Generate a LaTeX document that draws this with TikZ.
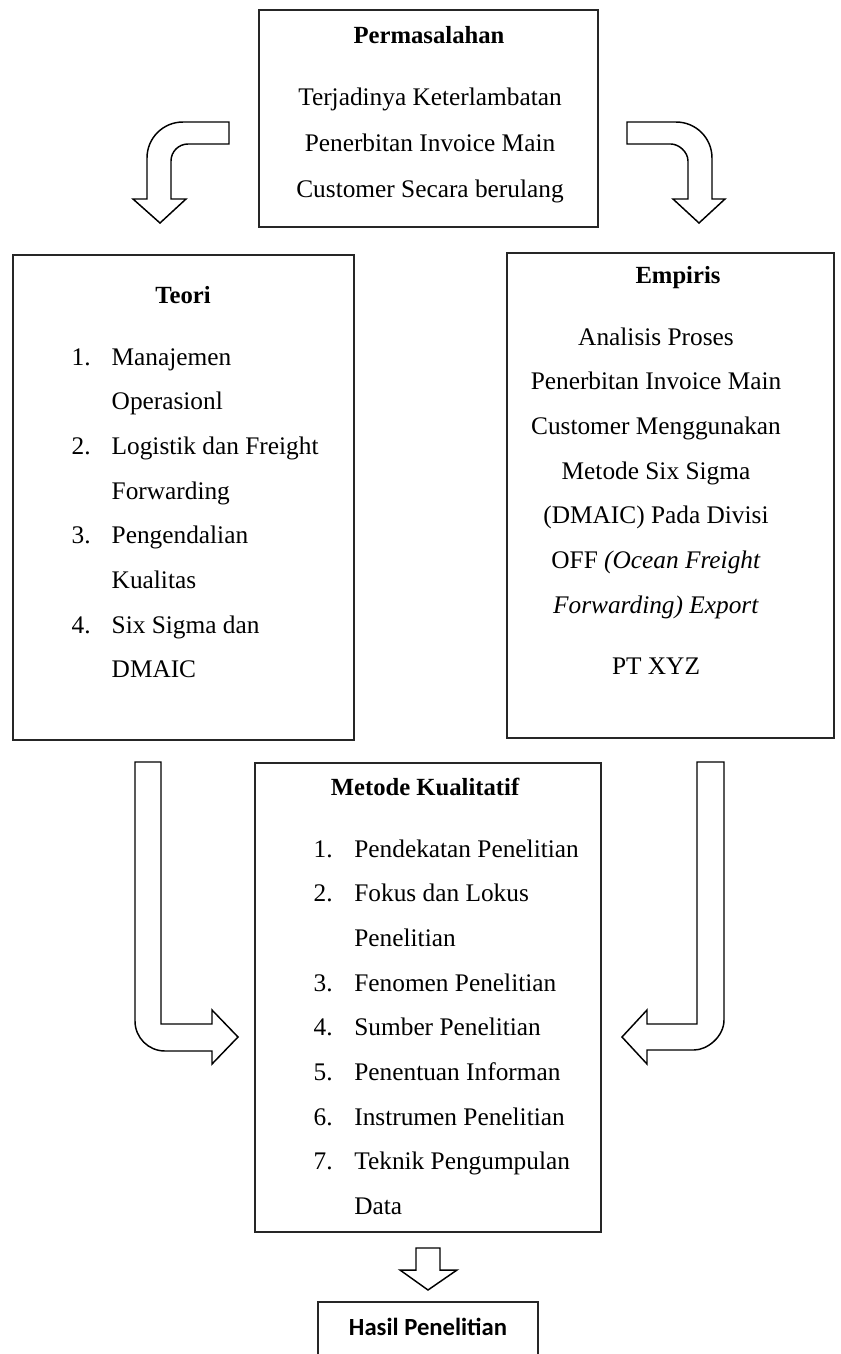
\documentclass[tikz,border=0pt]{standalone}
\usepackage{fontspec}
\setmainfont{Liberation Serif}
\newfontfamily\hasilfont{Carlito}
\usetikzlibrary{positioning}

\begin{document}
\begin{tikzpicture}[
    x=0.75pt, y=-0.75pt,
    panel/.style={draw=black!85, line width=1.6pt, inner sep=0pt},
    title/.style={anchor=base, font=\fontsize{18.5}{33.5}\selectfont\bfseries},
    body/.style={anchor=base, font=\fontsize{19}{33.5}\selectfont},
    blockarrow/.style={draw, line width=1.1pt, fill=white, line join=miter}
]
    \clip (0,0) rectangle (840,1354);

    % Boxes
    \node[panel, minimum width=254.25pt, minimum height=162.75pt] (masalah) at (428.5,118.5) {};
    \node[panel, minimum width=255.75pt, minimum height=363.75pt] (teori) at (183.5,497.5) {};
    \node[panel, minimum width=245.25pt, minimum height=363.75pt] (empiris) at (670.5,495.5) {};
    \node[panel, minimum width=259.5pt, minimum height=351.75pt] (metode) at (428,997.5) {};
    \node[panel, minimum width=165pt, minimum height=73.5pt] (hasil) at (428,1351) {};

    % Permasalahan
    \node[title] (masalahT) at (429,43) {Permasalahan};
    \node[body] (masalahB) at (430,105) {\begin{tabular}[t]{@{}c@{}}
        Terjadinya Keterlambatan\\[1pt]
        Penerbitan Invoice Main\\[1pt]
        Customer Secara berulang
    \end{tabular}};

    % Teori
    \node[title] (teoriT) at (183,303) {Teori};
    \node[body, anchor=base west] (teoriB) at (67,365) {\begin{tabular}[t]{@{}p{30pt}@{}l@{}}
        1. & Manajemen\\
           & Operasionl\\
        2. & Logistik dan Freight\\
           & Forwarding\\
        3. & Pengendalian\\
           & Kualitas\\
        4. & Six Sigma dan\\
           & DMAIC
    \end{tabular}};

    % Empiris
    \node[title] (empirisT) at (678,283) {Empiris};
    \node[body] (empirisB) at (656,345) {\begin{tabular}[t]{@{}c@{}}
        Analisis Proses\\
        Penerbitan Invoice Main\\
        Customer Menggunakan\\
        Metode Six Sigma\\
        (DMAIC) Pada Divisi\\
        OFF \textit{(Ocean Freight}\\
        \textit{Forwarding) Export}\\[12.5pt]
        PT XYZ
    \end{tabular}};

    % Metode Kualitatif
    \node[title] (metodeT) at (425,795) {Metode Kualitatif};
    \node[body, anchor=base west] (metodeB) at (309,857) {\begin{tabular}[t]{@{}p{30.5pt}@{}l@{}}
        1. & Pendekatan Penelitian\\
        2. & Fokus dan Lokus\\
           & Penelitian\\
        3. & Fenomen Penelitian\\
        4. & Sumber Penelitian\\
        5. & Penentuan Informan\\
        6. & Instrumen Penelitian\\
        7. & Teknik Pengumpulan\\
           & Data
    \end{tabular}};

    % Hasil
    \node[anchor=base, font=\hasilfont\fontsize{18.5}{22}\selectfont\bfseries] (hasilT) at (428,1335) {Hasil Penelitian};

    % Block arrows
    \draw[blockarrow] (229,122) -- (183,122) .. controls (163,122) and (147,138) .. (147,158) -- (147,199)
        -- (133,199) -- (160,223) -- (186,199) -- (171,199) -- (171,161)
        .. controls (171,151.6) and (178.6,144) .. (188,144) -- (229,144) -- cycle;
    \draw[blockarrow] (627,122) -- (676,122) .. controls (696,122) and (712,138) .. (712,158) -- (712,199)
        -- (725,199) -- (699,223) -- (673,199) -- (688,199) -- (688,161)
        .. controls (688,151.6) and (678.4,144) .. (671,144) -- (627,144) -- cycle;
    \draw[blockarrow] (135,762) -- (161,762) -- (161,1024) -- (212,1024) -- (212,1010)
        -- (238,1037) -- (212,1064) -- (212,1051) -- (165,1051)
        .. controls (148.4,1051) and (135,1037.6) .. (135,1021) -- cycle;
    \draw[blockarrow] (697,762) -- (724,762) -- (724,1020)
        .. controls (724,1036.6) and (707.4,1050) .. (694,1050) -- (647,1050) -- (647,1064)
        -- (622,1037) -- (647,1010) -- (647,1024) -- (697,1024) -- cycle;
    \draw[blockarrow] (416,1248) -- (440,1248) -- (440,1270) -- (457,1270)
        -- (428,1290) -- (400,1270) -- (416,1270) -- cycle;
\end{tikzpicture}
\end{document}
